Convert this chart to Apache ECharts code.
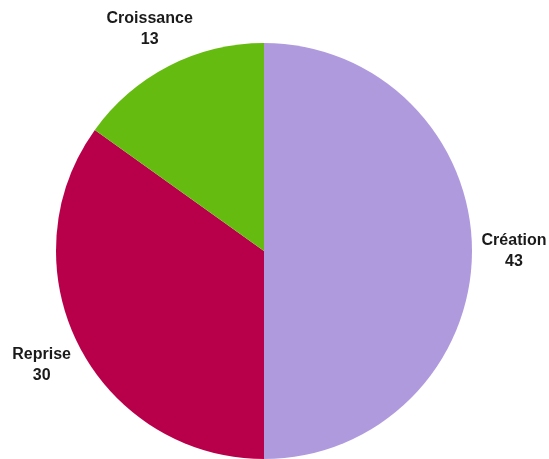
<!DOCTYPE html>
<html><head><meta charset="utf-8">
<script src="https://cdn.jsdelivr.net/npm/echarts@6/dist/echarts.min.js"></script>
<style>html,body{margin:0;padding:0;background:#fff}#c{width:549px;height:459px}</style>
</head><body><div id="c"></div>
<script>
const categories = ['Création', 'Reprise', 'Croissance'];
const values = [43, 30, 13];
const colors = ['#b09ade', '#b8004a', '#66bb11'];

const data = categories.map((n, i) => ({ name: n, value: values[i], itemStyle: { color: colors[i] } }));
const chart = echarts.init(document.getElementById('c'), null, { renderer: 'canvas' });
chart.setOption({
  animation: false,
  series: [
    {
      type: 'pie',
      center: [264, 251],
      radius: [0, 208],
      startAngle: 90,
      clockwise: true,
      silent: true,
      label: { show: false },
      labelLine: { show: false },
      data: data
    },
    {
      type: 'pie',
      center: [264, 251],
      radius: [236, 258],
      startAngle: 90,
      clockwise: true,
      silent: true,
      itemStyle: { color: 'rgba(0,0,0,0)' },
      label: {
        show: true,
        position: 'inside',
        formatter: '{b}\n{c}',
        fontFamily: 'Liberation Sans, Arial, sans-serif',
        fontWeight: 'bold',
        fontSize: 16,
        lineHeight: 21,
        color: '#1a1a1a',
        align: 'center'
      },
      labelLine: { show: false },
      data: categories.map((n, i) => ({ name: n, value: values[i] }))
    }
  ]
});
</script></body></html>
